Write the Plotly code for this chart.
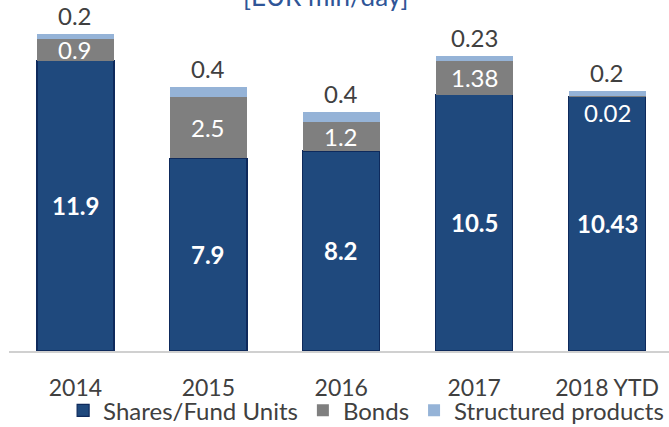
import plotly.graph_objects as go

years = ["2014", "2015", "2016", "2017", "2018 YTD"]
shares = [11.9, 7.9, 8.2, 10.5, 10.43]
bonds = [0.9, 2.5, 1.2, 1.38, 0.02]
structured = [0.2, 0.4, 0.4, 0.23, 0.2]
shares_lbl = ["11.9", "7.9", "8.2", "10.5", "10.43"]
bonds_lbl = ["0.9", "2.5", "1.2", "1.38", "0.02"]
struct_lbl = ["0.2", "0.4", "0.4", "0.23", "0.2"]

FONT = "Lato"
C_SH = "#1F497D"
C_BO = "#7F7F7F"
C_ST = "#95B3D7"
C_TXT = "#404040"

fig = go.Figure()
fig.add_trace(go.Bar(x=years, y=shares, name="Shares/Fund Units",
                     marker=dict(color=C_SH, line=dict(color="#0E2A5C", width=1.2))))
fig.add_trace(go.Bar(x=years, y=bonds, name="Bonds",
                     marker=dict(color=C_BO, line=dict(width=0))))
fig.add_trace(go.Bar(x=years, y=structured, name="Structured products",
                     marker=dict(color=C_ST, line=dict(width=0))))

annos = []
for i, yr in enumerate(years):
    s, b, t = shares[i], bonds[i], structured[i]
    annos.append(dict(x=i, y=s / 2, text="<b>" + shares_lbl[i] + "</b>", showarrow=False,
                      font=dict(family=FONT, size=24, color="white"), xref="x", yref="y"))
    if b < 0.1:
        annos.append(dict(x=i, y=s + b, text=bonds_lbl[i], showarrow=False, yanchor="top",
                          font=dict(family=FONT, size=24, color="white"), xref="x", yref="y"))
    else:
        annos.append(dict(x=i, y=s + b / 2, text=bonds_lbl[i], showarrow=False,
                          font=dict(family=FONT, size=24, color="white"), xref="x", yref="y"))
    annos.append(dict(x=i, y=s + b + t, text=struct_lbl[i], showarrow=False, yanchor="bottom",
                      yshift=2, font=dict(family=FONT, size=24, color=C_TXT), xref="x", yref="y"))

annos.append(dict(x=0.48, y=1, xref="paper", yref="paper", text="[EUR mln/day]", showarrow=False,
                  yanchor="middle", yshift=4, font=dict(family=FONT, size=26, color="#2F5597")))

fig.update_layout(
    width=669, height=427,
    margin=dict(l=9, r=0, t=0, b=76, autoexpand=False),
    barmode="stack", bargap=0.42,
    plot_bgcolor="white", paper_bgcolor="white",
    font=dict(family=FONT, size=23, color=C_TXT),
    annotations=annos,
    showlegend=True,
    legend=dict(orientation="h", x=0.082, xanchor="left", y=-0.106, yanchor="top",
                font=dict(family=FONT, size=24, color=C_TXT), traceorder="normal",
                itemwidth=30, bgcolor="rgba(0,0,0,0)"),
    xaxis=dict(type="category", range=[-0.5, 4.466], showline=True, linecolor="#D0D0D0",
               linewidth=1.5, ticks="", tickfont=dict(family=FONT, size=23, color=C_TXT),
               ticklabelstandoff=16, showgrid=False),
    yaxis=dict(range=[0, 14.385], visible=False, showgrid=False),
)

fig.write_html("out.html", config={"displayModeBar": False},
               post_script="document.body.style.margin='0';document.body.style.overflow='hidden';")
